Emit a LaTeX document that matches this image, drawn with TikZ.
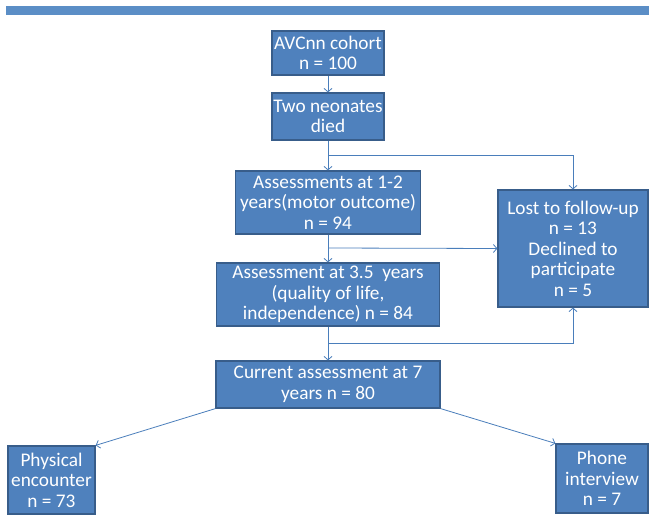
\documentclass[tikz,border=0pt]{standalone}
\usepackage{fontspec}
\setmainfont{Carlito}
\usetikzlibrary{arrows.meta}
\definecolor{kastenblau}{HTML}{4F81BD}
\definecolor{kastenrand}{HTML}{385D8A}
\definecolor{linienblau}{HTML}{4A7EBB}
\definecolor{balkenblau}{HTML}{5B8EC6}

\begin{document}
\begin{tikzpicture}[x=1bp,y=-1bp,
	kasten/.style={draw=kastenrand, fill=kastenblau, line width=1.2bp,
	text=white, align=center, inner sep=0pt,
	font=\fontsize{19.3bp}{20.5bp}\selectfont},
	pfeil/.style={draw=linienblau, line width=0.8bp,
	-{Straight Barb[length=3.5bp,width=8bp]}}]
\useasboundingbox (0,0) rectangle (649,517);
%Balken oben
\fill [balkenblau] (6,6) rectangle (649,15);
%Kaesten
\node [kasten, minimum width=112bp, minimum height=44bp] (kohorte) at (328,53) {AVCnn cohort\\ n = 100};
\node [kasten, minimum width=112bp, minimum height=47bp] (tod) at (328,116.5) {Two neonates\\ died};
\node [kasten, minimum width=185bp, minimum height=63bp] (motorik) at (328,202.5) {Assessments at 1-2\\ years(motor outcome)\\ n = 94};
\node [kasten, minimum width=223bp, minimum height=63bp] (qualitaet) at (328,294.5) {Assessment at 3.5 \ years\\ (quality of life,\\ independence) n = 84};
\node [kasten, minimum width=150bp, minimum height=117bp] (verlust) at (573,248.5) {Lost to follow-up\\ n = 13\\ Declined to\\ participate\\ n = 5};
\node [kasten, minimum width=224bp, minimum height=47bp] (aktuell) at (328,384.5) {Current assessment at 7\\ years n = 80};
\node [kasten, minimum width=87bp, minimum height=68bp] (koerper) at (51.5,480) {Physical\\ encounter\\ n = 73};
\node [kasten, minimum width=92bp, minimum height=69bp] (telefon) at (602,478.5) {Phone\\ interview\\ n = 7};
%Abzweigungen
\coordinate (ast1) at (328,155);
\coordinate (ast2) at (328,248);
\coordinate (ast3) at (328,343);
%Pfeile
\draw [pfeil] (kohorte) -- (tod);
\draw [pfeil] (tod) -- (motorik);
\draw [pfeil] (motorik) -- (qualitaet);
\draw [pfeil] (qualitaet) -- (aktuell);
\draw [pfeil] (ast1) -| (verlust.north);
\draw [pfeil] (ast2) -- (verlust.west);
\draw [pfeil] (ast3) -| (verlust.south);
\draw [pfeil] (aktuell.south west) -- (koerper.north east);
\draw [pfeil] (aktuell.south east) -- (telefon.north west);

\end{tikzpicture}
\end{document}
